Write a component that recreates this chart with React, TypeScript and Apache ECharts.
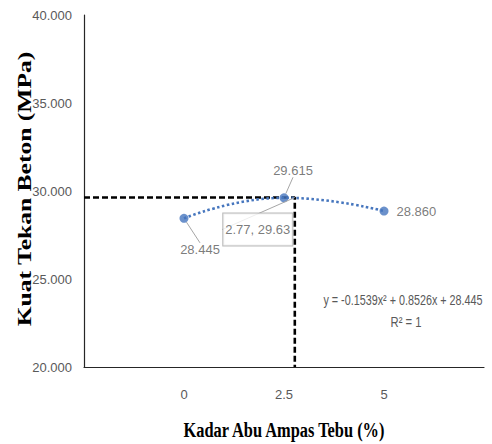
import React, { useEffect, useRef } from "react";
import * as echarts from "echarts";

const xValues = [0, 2.5, 5];
const strength = [28.445, 29.615, 28.86];
const optimum = [2.77, 29.63];
const yTicks = [20, 25, 30, 35, 40];
const xTitle = "Kadar Abu Ampas Tebu (%)";
const yTitle = "Kuat Tekan Beton (MPa)";
const equationText = "y = -0.1539x\u00b2 + 0.8526x + 28.445";
const r2Text = "R\u00b2 = 1";

const BLUE = "#4676be";
const GRAY = "#595959";
const SANS = "'Liberation Sans', Arial, sans-serif";
const SERIF = "'Liberation Serif', 'Times New Roman', serif";

export default function App() {
  const ref = useRef<HTMLDivElement>(null);
  useEffect(() => {
    if (!ref.current) return;
    const chart = echarts.init(ref.current, undefined, { renderer: "svg" });
    const points = xValues.map((x, i) => ({
      value: [x, strength[i]],
      labelLine: { show: i !== 2 },
    }));
    const labelOffsets = [
      { dx: 16, dy: 31 },
      { dx: 9, dy: -27 },
      { dx: 0, dy: 0 },
    ];
    chart.setOption({
      animation: false,
      backgroundColor: "#ffffff",
      grid: { left: 84, top: 15, right: 8, bottom: 77 },
      xAxis: {
        type: "value",
        min: -2.5,
        max: 7.5,
        interval: 2.5,
        axisLine: { show: true, onZero: false, lineStyle: { color: "#262626", width: 1.2 } },
        axisTick: { show: false },
        splitLine: { show: false },
        axisLabel: {
          color: GRAY,
          fontFamily: SANS,
          fontSize: 13,
          margin: 21,
          showMinLabel: false,
          showMaxLabel: false,
          formatter: (v: number) => (xValues.includes(v) ? String(v) : ""),
        },
      },
      yAxis: {
        type: "value",
        min: yTicks[0],
        max: yTicks[yTicks.length - 1],
        interval: 5,
        axisLine: { show: true, onZero: false, lineStyle: { color: "#262626", width: 1.2 } },
        axisTick: { show: false },
        splitLine: { show: false },
        axisLabel: {
          color: GRAY,
          fontFamily: SANS,
          fontSize: 13,
          margin: 12,
          formatter: (v: number) => v.toFixed(3),
        },
      },
      series: [
        {
          type: "line",
          data: [
            [-2.5, optimum[1]],
            [optimum[0], optimum[1]],
            [optimum[0], yTicks[0]],
          ],
          symbol: "none",
          lineStyle: { color: "#000", width: 2.6, type: [6, 3] },
          z: 2,
          silent: true,
        },
        {
          type: "line",
          data: xValues.map((x, i) => [x, strength[i]]),
          smooth: 0.5,
          symbol: "none",
          lineStyle: { color: BLUE, width: 2.6, type: [2.5, 2.5] },
          z: 3,
          silent: true,
        },
        {
          type: "scatter",
          data: points,
          symbolSize: 9,
          itemStyle: { color: BLUE },
          z: 4,
          label: {
            show: true,
            position: "right",
            distance: 8,
            color: GRAY,
            fontFamily: SANS,
            fontSize: 13,
            formatter: (p: any) => p.value[1].toFixed(3),
          },
          labelLine: { lineStyle: { color: "#a6a6a6", width: 1 } },
          labelLayout: (p: any) => {
            const o = labelOffsets[p.dataIndex];
            if (p.dataIndex === 2) return {};
            return {
              x: p.rect.x + p.rect.width / 2 + o.dx,
              y: p.rect.y + p.rect.height / 2 + o.dy,
              align: "center",
              verticalAlign: "middle",
            };
          },
        },
        {
          type: "scatter",
          data: [optimum],
          symbolSize: 0,
          z: 5,
          label: {
            show: true,
            position: "inside",
            color: GRAY,
            fontFamily: SANS,
            fontSize: 13,
            backgroundColor: "#ffffff",
            borderColor: "#a6a6a6",
            borderWidth: 1,
            padding: [10, 2, 9, 2],
            formatter: (p: any) => `${p.value[0]}, ${p.value[1]}`,
          },
          labelLine: { show: true, lineStyle: { color: "#a6a6a6", width: 1 } },
          labelLayout: (p: any) => ({
            x: p.rect.x + p.rect.width / 2 - 37,
            y: p.rect.y + p.rect.height / 2 + 32,
            align: "center",
            verticalAlign: "middle",
          }),
        },
      ],
      graphic: [
        {
          type: "text",
          x: 403,
          y: 300,
          scaleX: 0.72,
          style: { text: equationText, fill: GRAY, font: `15px ${SANS}`, align: "center", verticalAlign: "middle" },
        },
        {
          type: "text",
          x: 406,
          y: 322,
          scaleX: 0.75,
          style: { text: r2Text, fill: GRAY, font: `15px ${SANS}`, align: "center", verticalAlign: "middle" },
        },
        {
          type: "text",
          x: 284,
          y: 430,
          scaleX: 0.82,
          style: { text: xTitle, fill: "#000", font: `bold 20px ${SERIF}`, align: "center", verticalAlign: "middle" },
        },
        {
          type: "text",
          x: 25,
          y: 189,
          rotation: Math.PI / 2,
          scaleX: 1.42,
          style: { text: yTitle, fill: "#000", font: `bold 18px ${SERIF}`, align: "center", verticalAlign: "middle" },
        },
      ],
    });
    return () => chart.dispose();
  }, []);
  return <div ref={ref} style={{ width: 492, height: 444, position: "absolute", left: 0, top: 0 }} />;
}
